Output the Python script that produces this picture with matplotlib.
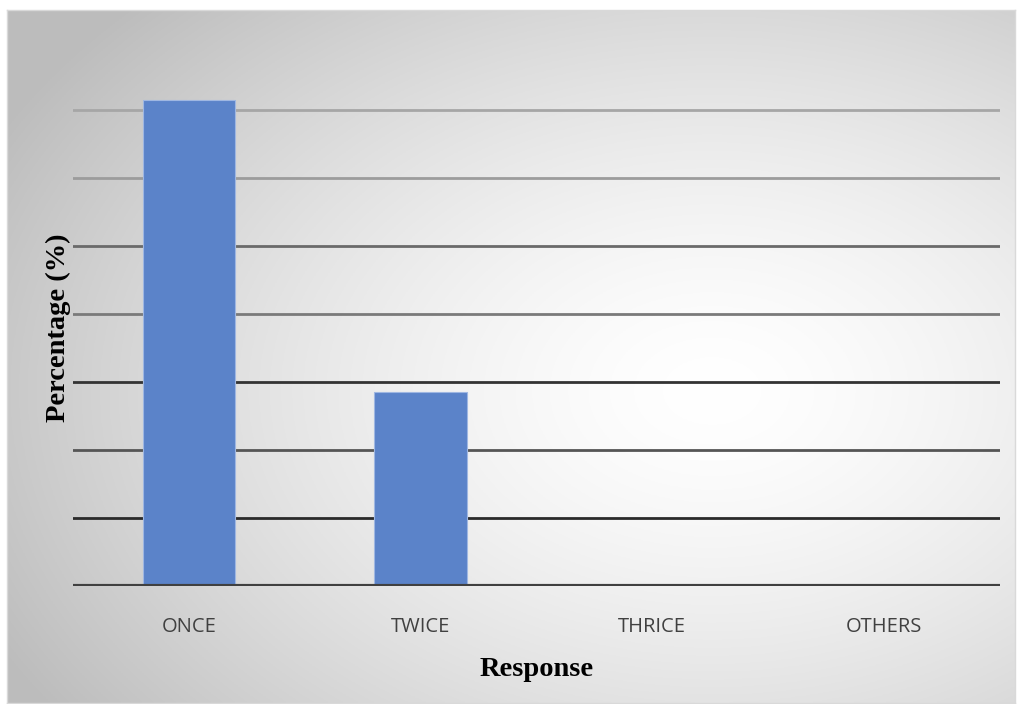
import numpy as np
import matplotlib.pyplot as plt

# survey data
categories = ['ONCE', 'TWICE', 'THRICE', 'OTHERS']
percentages = [71.4, 28.6, 0, 0]
grid_levels = [10, 20, 30, 40, 50, 60, 70]

W, H = 1017, 704
fig = plt.figure(figsize=(W / 100, H / 100), dpi=100)
fig.patch.set_facecolor('white')

# chart area with a soft radial grey fill
bg = fig.add_axes([7 / W, 1 - 703 / H, (1015 - 7) / W, (703 - 10) / H])
ny, nx = 300, 440
yy, xx = np.mgrid[0:1:ny * 1j, 0:1:nx * 1j]
r = np.sqrt(((xx - 0.7) / 0.8) ** 2 + ((yy - 0.55) / 0.8) ** 2)
r = np.clip(r, 0, 1) ** 1.5
lo, hi = 0.74, 1.0
shade = hi - (hi - lo) * r
img = np.dstack([shade, shade, shade])
bg.imshow(img, aspect='auto', extent=[0, 1, 0, 1], origin='upper')
bg.set_xticks([])
bg.set_yticks([])
for s in bg.spines.values():
    s.set_color('#d9d9d9')
    s.set_linewidth(1.0)

ax = fig.add_axes([73 / W, (H - 586) / H, (1000 - 73) / W, (586 - 76) / H])
ax.patch.set_alpha(0)

x = np.arange(len(categories))
ax.bar(x, percentages, width=0.4, color='#5b83c9', edgecolor='#9fb7e2',
       linewidth=0.8, zorder=3)

ax.set_xlim(-0.5, len(categories) - 0.5)
ax.set_ylim(0, 75)

# horizontal gridlines
line_colors = ['#2a2a2a', '#555555', '#333333', '#7a7a7a', '#6a6a6a', '#9c9c9c', '#a6a6a6']
for lvl, c in zip(grid_levels, line_colors):
    ax.axhline(lvl, color=c, linewidth=2.0, zorder=1)
ax.axhline(0, color='#404040', linewidth=3.0, zorder=4)

for s in ax.spines.values():
    s.set_visible(False)
ax.set_yticks([])
ax.set_xticks(x)
ax.set_xticklabels(categories, fontfamily='Open Sans', fontsize=14.5, color='#404040')
ax.tick_params(axis='x', length=0, pad=22)

ax.set_xlabel('Response', fontfamily='Liberation Serif', fontweight='bold',
              fontsize=20.5, color='black', labelpad=15)
fig.text(58 / W, 1 - 328 / H, 'Percentage (%)', rotation=90, ha='center', va='center',
         fontfamily='Liberation Serif', fontweight='bold', fontsize=20.5, color='black')

fig.savefig('out.png', dpi=100, facecolor='white')
